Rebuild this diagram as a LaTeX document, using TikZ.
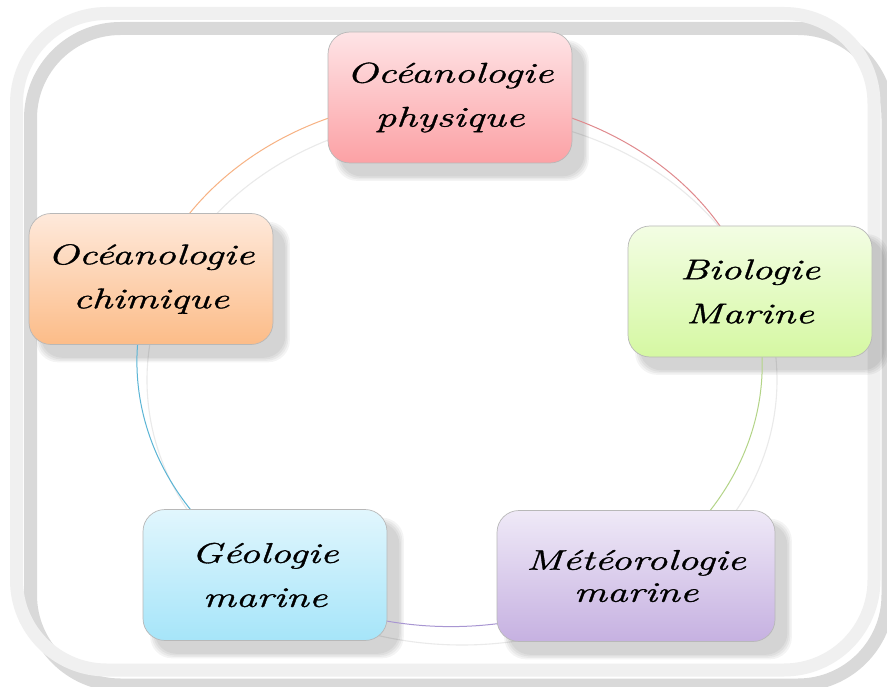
\documentclass[tikz,border=0pt]{standalone}
\usepackage{fontspec}
\newfontfamily\boxfont[FakeStretch=1.45,FakeBold=1.2]{Latin Modern Roman}
\usetikzlibrary{calc}
\definecolor{physTop}{HTML}{FEE4E6}
\definecolor{physBot}{HTML}{FCA1A5}
\definecolor{chimTop}{HTML}{FEE9DB}
\definecolor{chimBot}{HTML}{FCBC88}
\definecolor{bioTop}{HTML}{F3FDE4}
\definecolor{bioBot}{HTML}{D5F8A2}
\definecolor{geoTop}{HTML}{E1F6FD}
\definecolor{geoBot}{HTML}{A6E5F9}
\definecolor{metTop}{HTML}{EFE9F7}
\definecolor{metBot}{HTML}{C6B1E1}
\definecolor{physArc}{HTML}{E08A8E}
\definecolor{chimArc}{HTML}{F7B283}
\definecolor{bioArc}{HTML}{B3D487}
\definecolor{geoArc}{HTML}{5BB5D5}
\definecolor{metArc}{HTML}{A896D2}
\definecolor{frameLight}{HTML}{F0F0F0}
\definecolor{frameDark}{HTML}{D9D9D9}
\definecolor{ghostArc}{HTML}{EAEAEA}
\pgfdeclarelayer{bg}
\pgfdeclarelayer{mid}
\pgfsetlayers{bg,mid,main}
\begin{document}
\begin{tikzpicture}[x=1pt,y=-1pt,
  box/.style={draw=black!28, line width=0.7pt, rounded corners=22pt,
    minimum width=244pt, minimum height=131pt, inner sep=0pt, align=center,
    font=\boxfont\itshape\fontsize{28.5}{44}\selectfont},
  framestroke/.style={line width=13pt, rounded corners=90pt},
  arcline/.style={line width=1pt},
  ghost/.style={draw=ghostArc, line width=1.1pt},
  boxshade/.style={fill=black, opacity=0.045, rounded corners=22pt}]
\useasboundingbox (0,0) rectangle (887,687);

% boxes
\node[box, top color=physTop, bottom color=physBot] (phys) at (450,97.5) {Océanologie\\physique};
\node[box, top color=bioTop, bottom color=bioBot] (bio) at (750,291.5) {Biologie\\Marine};
\node[box, minimum width=278pt, top color=metTop, bottom color=metBot,
  font=\boxfont\itshape\fontsize{28.5}{32}\selectfont] (met) at (636,576) {Météorologie\\marine};
\node[box, top color=geoTop, bottom color=geoBot] (geo) at (265,575) {Géologie\\marine};
\node[box, top color=chimTop, bottom color=chimBot] (chim) at (151,279) {Océanologie\\chimique};

\begin{pgfonlayer}{bg}
  \fill[white] (0,0) rectangle (887,687);
  \begin{scope}
  \clip (0,0) rectangle (887,687);
  % outer frame and its shadow
  \coordinate (fA) at (16.5,13.5);
  \coordinate (fB) at (874,670);
  \draw[framestroke, frameDark] ($(fA)+(14,15)$) rectangle ($(fB)+(14,15)$);
  \draw[framestroke, frameLight] (fA) rectangle (fB);
  \end{scope}
  % shadow of the ring
  \coordinate (G) at (462,380);
  \draw[ghost] (G) ellipse[x radius=315, y radius=265];
  % box shadows
  \foreach \n in {phys,bio,met,geo,chim}{
    \foreach \e in {0,1.5,3,4.5}{
      \fill[boxshade] ($(\n.north west)+(12-\e,13-\e)$) rectangle ($(\n.south east)+(12+\e,13+\e)$);
    }
  }
\end{pgfonlayer}

\begin{pgfonlayer}{mid}
  \draw[arcline, physArc] (phys.center) arc[start angle=-90, end angle=-16, x radius=315, y radius=265];
  \draw[arcline, bioArc] (bio.center) arc[start angle=-16, end angle=54, x radius=315, y radius=265];
  \draw[arcline, metArc] (met.center) arc[start angle=54, end angle=126.4, x radius=315, y radius=265];
  \draw[arcline, geoArc] (geo.center) arc[start angle=126.4, end angle=198.4, x radius=315, y radius=265];
  \draw[arcline, chimArc] (chim.center) arc[start angle=198.4, end angle=270, x radius=315, y radius=265];
\end{pgfonlayer}
\end{tikzpicture}
\end{document}
